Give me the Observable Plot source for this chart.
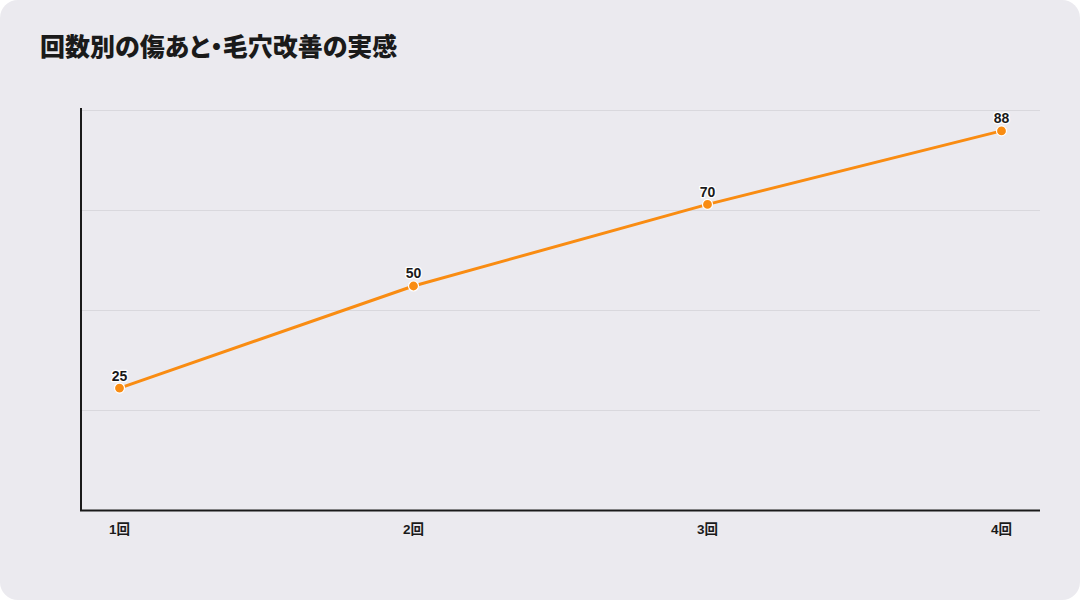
<!DOCTYPE html>
<html>
<head>
<meta charset="utf-8">
<script src="https://cdn.jsdelivr.net/npm/d3@7"></script>
<script src="https://cdn.jsdelivr.net/npm/@observablehq/plot@0.6"></script>
<style>
  html, body { margin: 0; padding: 0; background: #ffffff; }
  #card {
    position: relative; width: 1080px; height: 600px; box-sizing: border-box;
    background: #ebeaef; border-radius: 18px; overflow: hidden;
    font-family: "Noto Sans CJK JP", "Noto Sans", sans-serif;
  }
  #title {
    position: absolute; left: 40px; top: 27px; margin: 0;
    font-size: 25px; font-weight: 900; color: #1a1a1a;
    font-feature-settings: "palt" 1;
  }
  #chart { position: absolute; left: 0; top: 80px; }
</style>
</head>
<body>
<div id="card">
  <h1 id="title">回数別の傷あと・毛穴改善の実感</h1>
  <div id="chart"></div>
</div>
<script>
const sessions = ["1回", "2回", "3回", "4回"];
const scores = [25, 50, 70, 88];
const yDomain = [-5, 93];

const data = sessions.map((s, i) => ({session: s, score: scores[i]}));
const gridValues = d3.range(1, 5).map(k => yDomain[0] + k * (yDomain[1] - yDomain[0]) / 4);
const labelFont = "'Liberation Sans', Arial, 'Noto Sans CJK JP', sans-serif";

const chart = Plot.plot({
  width: 1080,
  height: 500,
  marginTop: 30,
  marginBottom: 70,
  marginLeft: 80,
  marginRight: 40,
  style: {background: "transparent", fontFamily: labelFont},
  x: {type: "point", domain: sessions, padding: 0.13, label: null},
  y: {domain: yDomain, label: null, axis: null},
  marks: [
    Plot.ruleY(gridValues, {stroke: "#d9d8dd", strokeWidth: 1}),
    Plot.ruleY([yDomain[0]], {stroke: "#1a1a1a", strokeWidth: 2}),
    Plot.axisX({tickSize: 0, tickPadding: 14, fontSize: 13.5, fontWeight: 700, fill: "#1a1a1a", color: "#1a1a1a"}),
    Plot.line(data, {x: "session", y: "score", stroke: "#f98c12", strokeWidth: 3}),
    Plot.dot(data, {x: "session", y: "score", r: 5, fill: "#f98c12", stroke: "#ffffff", strokeWidth: 1.2}),
    Plot.text(data, {x: "session", y: "score", text: d => String(d.score), dy: -12, fontSize: 14, fontWeight: 700, fill: "#1a1a1a", stroke: "#ffffff", strokeWidth: 2.5, paintOrder: "stroke"})
  ]
});

// Y axis line along the left edge of the frame
const svg = d3.select(chart);
svg.append("line")
  .attr("x1", 81).attr("x2", 81)
  .attr("y1", 28).attr("y2", 431)
  .attr("stroke", "#1a1a1a").attr("stroke-width", 2);

document.getElementById("chart").appendChild(chart);
</script>
</body>
</html>
